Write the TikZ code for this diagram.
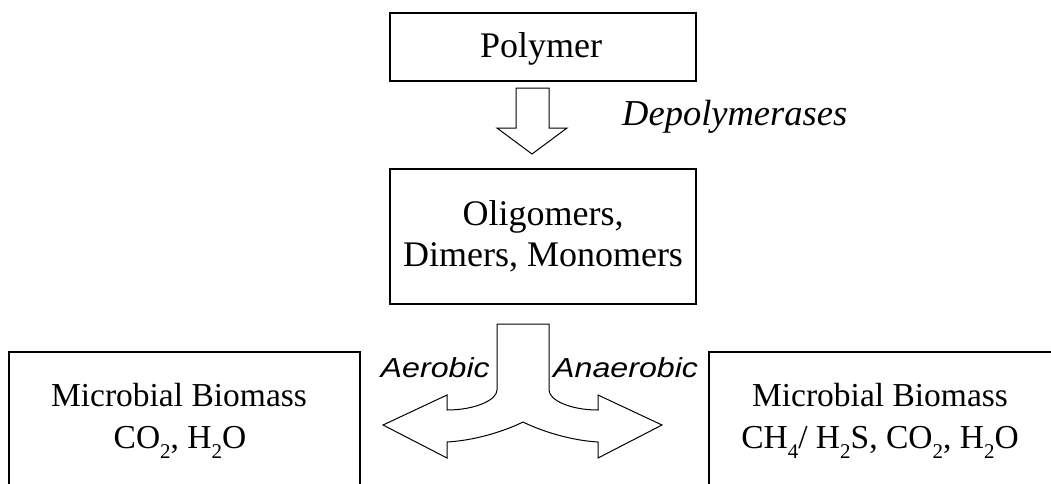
\documentclass[tikz,border=0pt]{standalone}
\usepackage{fontspec}
\usepackage{graphicx}
\setmainfont{Liberation Serif}
\newfontfamily\lblfont{Liberation Sans}
\newcommand\mysub[1]{\raisebox{-0.32em}{\fontsize{21}{21}\selectfont #1}}
\newcommand\widen[1]{\scalebox{1.17}[1]{#1}}
\begin{document}
\begin{tikzpicture}[x=1pt,y=-1pt,
  box/.style={draw=black,line width=1.5pt,inner sep=0pt,rectangle},
  blockarrow/.style={draw=black,line width=1pt,fill=white,line join=miter},
  main/.style={font=\fontsize{36}{41}\selectfont,inner sep=0pt},
  bio/.style={font=\fontsize{33.5}{42}\selectfont,inner sep=0pt,align=center},
  enz/.style={font=\fontsize{36.5}{41}\selectfont\itshape,inner sep=0pt},
  lbl/.style={font=\lblfont\itshape\fontsize{27.5}{30}\selectfont,inner sep=0pt}]
\useasboundingbox (0,0) rectangle (1051,483);
\clip (0,0) rectangle (1051,483);
\fill[white] (0,0) rectangle (1051,483);
% boxes
\node[box,minimum width=306pt,minimum height=68pt] (poly) at (543,47) {};
\node[box,minimum width=306pt,minimum height=135pt] (olig) at (543,236.5) {};
\node[box,minimum width=351pt,minimum height=200pt] (left) at (184.5,452) {};
\node[box,minimum width=400pt,minimum height=200pt] (right) at (909,452) {};
% texts
\node[main,anchor=base] (polyt) at (541,57) {Polymer};
\node[main,anchor=base] (oligt1) at (543,225) {Oligomers,};
\node[main,anchor=base] (oligt2) at (543,266) {Dimers, Monomers};
\node[enz,anchor=base west] (depo) at (622,125) {Depolymerases};
\node[bio,anchor=base] (leftt1) at (179,406) {Microbial Biomass};
\node[bio,anchor=base] (leftt2) at (180,448) {CO\mysub{2}, H\mysub{2}O};
\node[bio,anchor=base] (rightt1) at (880,406) {Microbial Biomass};
\node[bio,anchor=base] (rightt2) at (880,448) {CH\mysub{4}/ H\mysub{2}S, CO\mysub{2}, H\mysub{2}O};
\node[lbl,anchor=base east] (aer) at (490,377) {\widen{Aerobic}};
\node[lbl,anchor=base west] (anaer) at (553,377) {\widen{Anaerobic}};
% down block arrow
\draw[blockarrow] (516,88) -- (549,88) -- (549,128) -- (567,128) -- (532,154)
  -- (497,128) -- (516,128) -- cycle;
% split block arrow
\draw[blockarrow] (497,324) -- (549,324) -- (549,390)
  .. controls (549,400) and (570,410) .. (598,410)
  -- (598,395) -- (662,425) -- (598,458) -- (598,442)
  .. controls (565,440) and (535,428) .. (523,422)
  .. controls (511,428) and (481,440) .. (447,442)
  -- (447,458) -- (383,425) -- (447,395) -- (447,410)
  .. controls (475,410) and (497,400) .. (497,390) -- cycle;
\end{tikzpicture}
\end{document}
